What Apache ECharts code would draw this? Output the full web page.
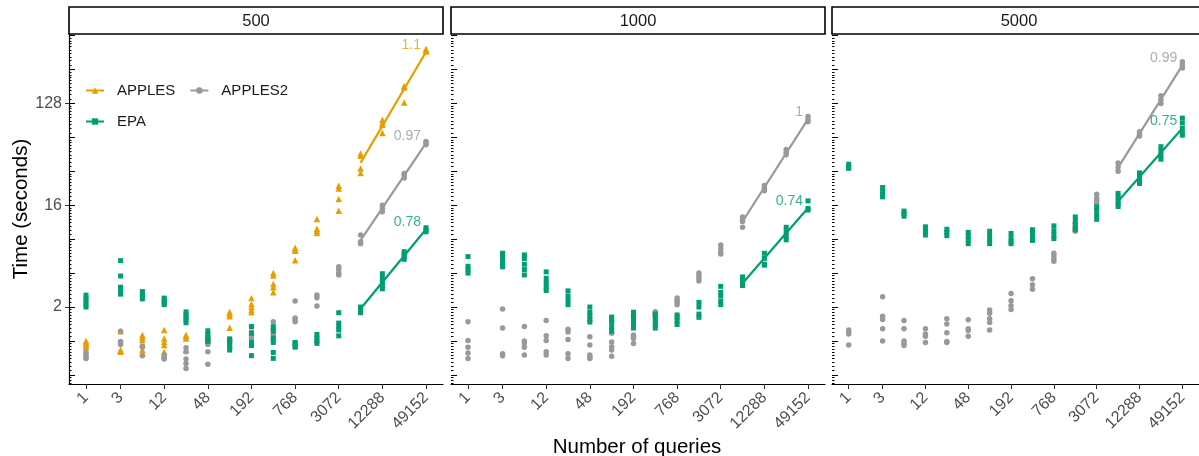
<!DOCTYPE html>
<html>
<head>
<meta charset="utf-8">
<script src="https://cdn.jsdelivr.net/npm/echarts@6/dist/echarts.min.js"></script>
<style>
  html, body { margin: 0; padding: 0; background: #fff; }
  #chart { width: 1199px; height: 456px; }
</style>
</head>
<body>
<div id="chart"></div>
<script>
// x values (number of queries) and the labelled ticks
var queries = [1, 3, 6, 12, 24, 48, 96, 192, 384, 768, 1536, 3072, 6144, 12288, 24576, 49152];
var xTickLabels = [1, 3, 12, 48, 192, 768, 3072, 12288, 49152];
var yTickLabels = [2, 16, 128];
var panelNames = ['500', '1000', '5000'];
var methods = ['APPLES', 'APPLES2', 'EPA'];
var fitFrom = 6144;

// time (seconds), one list of replicates per query count
var apples500 = [
  [1.0, 0.97, 0.94, 0.9, 0.88], [1.22, 0.83, 0.82, 0.8], [1.13, 1.08, 1.02, 0.83, 0.78],
  [1.25, 1.05, 0.98, 0.92, 0.8], [1.13, 1.1, 1.05, 0.83], [1.15, 1.1, 1.05, 1.0],
  [1.81, 1.73, 1.66, 1.31], [2.4, 2.13, 2.0, 1.88, 1.8], [4.0, 3.8, 3.2, 3.0, 2.7],
  [6.7, 6.5, 6.3, 5.2], [12.1, 9.9, 9.5, 9.1], [23.8, 22.5, 18.2, 14.3],
  [46, 44, 34, 31], [92, 86, 83, 70], [183, 178, 131], [390, 380, 370]
];
var apples2_500 = [
  [0.79, 0.76, 0.72, 0.7], [1.22, 0.99, 0.96, 0.93], [0.9, 0.88, 0.74],
  [0.75, 0.72, 0.7, 0.69], [0.87, 0.8, 0.69, 0.63, 0.57], [0.99, 0.93, 0.8, 0.62],
  [1.04, 1.0, 0.86], [1.34, 1.2, 1.12, 1.04], [1.48, 1.25, 1.13, 1.04],
  [2.26, 1.6, 1.55, 1.48], [2.56, 2.42, 2.04], [4.55, 4.3, 4.0, 3.85],
  [8.7, 7.6, 7.3], [16, 15, 14], [30.7, 29.5, 28], [59, 57, 55]
];
var epa500 = [
  [2.55, 2.4, 2.26, 2.1, 2.0], [5.16, 3.77, 3.0, 2.78, 2.6], [2.74, 2.6, 2.5, 2.36],
  [2.4, 2.3, 2.2, 2.1], [1.81, 1.7, 1.62, 1.55, 1.45], [1.23, 1.15, 1.08, 1.02, 0.99],
  [1.04, 0.99, 0.95, 0.9, 0.83], [1.34, 1.17, 0.97, 0.91, 0.74], [1.34, 1.22, 1.06, 0.97, 0.79, 0.7],
  [0.97, 0.94, 0.9, 0.88], [1.14, 1.06, 1.0, 0.95], [1.78, 1.44, 1.33, 1.25, 1.11],
  [2.0, 1.92, 1.78], [3.95, 3.6, 3.3, 3.1, 2.9], [6.2, 5.9, 5.6, 5.3], [10.1, 9.6, 9.3]
];
var apples2_1000 = [
  [1.48, 1.01, 0.88, 0.78, 0.7], [1.92, 1.3, 0.77, 0.74], [1.34, 1.0, 0.96, 0.88, 0.75],
  [1.52, 1.11, 1.01, 0.8, 0.75], [1.27, 1.2, 1.03, 0.77, 0.7], [1.09, 0.92, 0.75, 0.72, 0.7],
  [1.17, 0.98, 0.89, 0.83, 0.73], [1.66, 1.13, 1.1, 1.05, 0.95], [1.82, 1.75, 1.7, 1.65],
  [2.4, 2.3, 2.2, 2.1], [4.0, 3.8, 3.6, 3.4], [7.1, 6.6, 6.2, 5.9],
  [12.6, 12, 11.5, 10.2], [24, 22.5, 21.5], [50, 47, 45], [98, 92, 88]
];
var epa1000 = [
  [5.6, 4.6, 4.3, 4.0], [6.0, 5.8, 5.3, 4.9, 4.55], [5.8, 5.4, 4.8, 4.3, 3.85],
  [4.1, 3.6, 3.3, 3.0, 2.8], [2.78, 2.5, 2.3, 2.1], [2.0, 1.8, 1.68, 1.55, 1.47],
  [1.63, 1.52, 1.46, 1.33, 1.22], [1.8, 1.66, 1.55, 1.4, 1.3], [1.73, 1.6, 1.47, 1.38, 1.3],
  [1.7, 1.62, 1.5, 1.4], [2.2, 2.0, 1.73, 1.62], [3.05, 2.7, 2.5, 2.25, 2.1],
  [3.7, 3.45, 3.2, 3.1], [6.0, 5.4, 4.8, 4.7], [10.2, 9.3, 8.5, 7.9], [17.5, 15, 14.5]
];
var apples2_5000 = [
  [1.25, 1.2, 1.15, 0.92], [2.47, 1.66, 1.55, 1.28, 1.0], [1.52, 1.28, 1.0, 0.95, 0.91],
  [1.28, 1.15, 1.1, 0.97], [1.57, 1.41, 1.18, 0.99, 0.97], [1.54, 1.28, 1.24, 1.1],
  [1.88, 1.76, 1.57, 1.46, 1.25], [2.64, 2.27, 2.05, 1.9], [3.56, 3.16, 2.87],
  [6.0, 5.7, 5.4, 5.1], [11, 10.2, 9.7, 9.4], [20, 18.5, 17.5, 16.5],
  [38, 35, 32], [72, 68, 66], [150, 138, 128], [300, 280, 265]
];
var epa5000 = [
  [37, 35, 34], [23, 21.5, 20, 19], [14.2, 13.5, 12.8],
  [10.3, 9.8, 9.2, 8.7], [9.8, 9.2, 8.6], [9.2, 8.5, 7.9, 7.3],
  [9.4, 8.6, 7.9, 7.3], [9.0, 8.2, 7.6, 7.3], [9.7, 9.0, 8.2, 7.8],
  [10.5, 9.5, 8.7, 8.1], [12.6, 11.5, 10.5, 9.7], [15.5, 14.5, 13.2, 12],
  [20.4, 19, 17.6, 16.5, 15.6], [31, 28.5, 26.5, 25], [53, 48, 44, 41], [95, 86, 77, 70, 67]
];
// slope labels printed at the end of each fitted line
var slopes500 = ['1.1', '0.97', '0.78'];
var slopes1000 = ['', '1', '0.74'];
var slopes5000 = ['', '0.99', '0.75'];

var panelData = [
  [apples500, apples2_500, epa500],
  [null, apples2_1000, epa1000],
  [null, apples2_5000, epa5000]
];
var panelSlopes = [slopes500, slopes1000, slopes5000];

// layout / style
var colors = ['#E69F00', '#999999', '#009E73'];
var symbols = ['triangle', 'circle', 'rect'];
var symbolSizes = [6.5, 5.5, 5];
var gridLeft = [69, 451, 832];
var gridTop = 34, gridW = 374, gridH = 350;
var xMin = -0.779, xMax = 16.364;
var yMin = -1.27, yMax = 9.05;
var font = '"Liberation Sans", Arial, sans-serif';

var log2 = function (v) { return Math.log(v) / Math.LN2; };
var pow2Label = function (v) { return String(Math.round(Math.pow(2, v))); };

var majorTicks = [], minorTicks = [];
for (var k = -2; k <= 10; k++) {
  if (k >= yMin && k <= yMax) majorTicks.push(k);
  for (var i = 1; i <= 9; i++) {
    var t = k + log2(1 + i / 10);
    if (t >= yMin && t <= yMax) minorTicks.push(t);
  }
}

var grids = [], xAxes = [], yAxes = [];
gridLeft.forEach(function (left, p) {
  grids.push({ left: left, top: gridTop, width: gridW, height: gridH });
  xAxes.push({
    gridIndex: p, type: 'value', min: xMin, max: xMax,
    axisLine: { onZero: false, lineStyle: { color: '#000', width: 1.2 } },
    axisTick: { customValues: xTickLabels.map(log2), length: 5, lineStyle: { color: '#333' } },
    axisLabel: { customValues: xTickLabels.map(log2), formatter: pow2Label, rotate: 45,
      fontSize: 16, color: '#4d4d4d', margin: 11, fontFamily: font },
    splitLine: { show: false }
  });
  yAxes.push({
    gridIndex: p, type: 'value', position: 'left', min: yMin, max: yMax,
    axisLine: { show: p === 0, onZero: false, lineStyle: { color: '#000', width: 1.2 } },
    axisTick: { show: p === 0, customValues: yTickLabels.map(log2), length: 4, lineStyle: { color: '#333' } },
    axisLabel: { show: p === 0, customValues: yTickLabels.map(log2), formatter: pow2Label,
      fontSize: 16, color: '#4d4d4d', margin: 7, fontFamily: font },
    splitLine: { show: false }
  });
  yAxes.push({
    gridIndex: p, type: 'value', position: 'left', min: yMin, max: yMax,
    axisLine: { show: false, onZero: false },
    axisTick: { show: true, inside: true, customValues: majorTicks, length: 6, lineStyle: { color: '#000' } },
    axisLabel: { show: false }, splitLine: { show: false }
  });
  yAxes.push({
    gridIndex: p, type: 'value', position: 'left', min: yMin, max: yMax,
    axisLine: { show: false, onZero: false },
    axisTick: { show: true, inside: true, customValues: minorTicks, length: 2.5, lineStyle: { color: '#000' } },
    axisLabel: { show: false }, splitLine: { show: false }
  });
});

var lineSeries = [], pointSeries = [], labelSeries = [];
panelData.forEach(function (sets, p) {
  sets.forEach(function (vals, m) {
    if (!vals) return;
    var pts = [];
    vals.forEach(function (reps, i) {
      reps.forEach(function (v) { pts.push([log2(queries[i]), log2(v)]); });
    });
    pointSeries.push({
      type: 'scatter', name: methods[m], xAxisIndex: p, yAxisIndex: p * 3, data: pts,
      symbol: symbols[m], symbolSize: symbolSizes[m],
      itemStyle: { color: colors[m], opacity: 1 }, z: 2, silent: true
    });
    // least squares fit on log2-log2 for the largest query counts
    var fp = pts.filter(function (d) { return d[0] >= log2(fitFrom) - 1e-9; });
    var n = fp.length, sx = 0, sy = 0, sxx = 0, sxy = 0;
    fp.forEach(function (d) { sx += d[0]; sy += d[1]; sxx += d[0] * d[0]; sxy += d[0] * d[1]; });
    var b = (n * sxy - sx * sy) / (n * sxx - sx * sx);
    var a = (sy - b * sx) / n;
    var x0 = log2(fitFrom), x1 = log2(queries[queries.length - 1]);
    lineSeries.push({
      type: 'line', name: methods[m], xAxisIndex: p, yAxisIndex: p * 3,
      data: [[x0, a + b * x0], [x1, a + b * x1]],
      showSymbol: false, symbol: symbols[m], symbolSize: 6,
      lineStyle: { color: colors[m], width: 2.2 }, itemStyle: { color: colors[m] }, z: 3, silent: true
    });
    var txt = panelSlopes[p][m];
    if (txt) {
      labelSeries.push({
        type: 'scatter', xAxisIndex: p, yAxisIndex: p * 3, data: [[x1, a + b * x1]],
        symbolSize: 0, silent: true, z: 4,
        label: { show: true, position: 'left', distance: 5, offset: [0, -7], formatter: txt,
          color: colors[m], fontSize: 14, fontFamily: font }
      });
    }
  });
});

var graphics = [];
gridLeft.forEach(function (left, p) {
  graphics.push({ type: 'rect', shape: { x: left, y: 7, width: gridW, height: 27 },
    style: { fill: '#fff', stroke: '#000', lineWidth: 1.6 }, z: 10 });
  graphics.push({ type: 'text', x: left + gridW / 2, y: 21,
    style: { text: panelNames[p], fontSize: 16.5, fontFamily: font, fill: '#1a1a1a', align: 'center', verticalAlign: 'middle' }, z: 11 });
});
graphics.push({ type: 'text', x: 21, y: 209, rotation: Math.PI / 2,
  style: { text: 'Time (seconds)', fontSize: 20.5, fontFamily: font, fill: '#000', align: 'center', verticalAlign: 'middle' } });
graphics.push({ type: 'text', x: 637, y: 447,
  style: { text: 'Number of queries', fontSize: 20.5, fontFamily: font, fill: '#000', align: 'center', verticalAlign: 'middle' } });

var legendBase = { left: 80, orient: 'horizontal', itemWidth: 18, itemHeight: 8, itemGap: 14,
  textStyle: { fontSize: 15, color: '#1a1a1a', fontFamily: font, padding: [0, 0, 0, 8] } };

var chart = echarts.init(document.getElementById('chart'));
chart.setOption({
  animation: false,
  backgroundColor: '#fff',
  textStyle: { fontFamily: font },
  grid: grids,
  xAxis: xAxes,
  yAxis: yAxes,
  legend: [
    Object.assign({}, legendBase, { data: ['APPLES', 'APPLES2'], top: 78 }),
    Object.assign({}, legendBase, { data: ['EPA'], top: 109 })
  ],
  graphic: graphics,
  series: lineSeries.concat(pointSeries, labelSeries)
});
</script>
</body>
</html>
